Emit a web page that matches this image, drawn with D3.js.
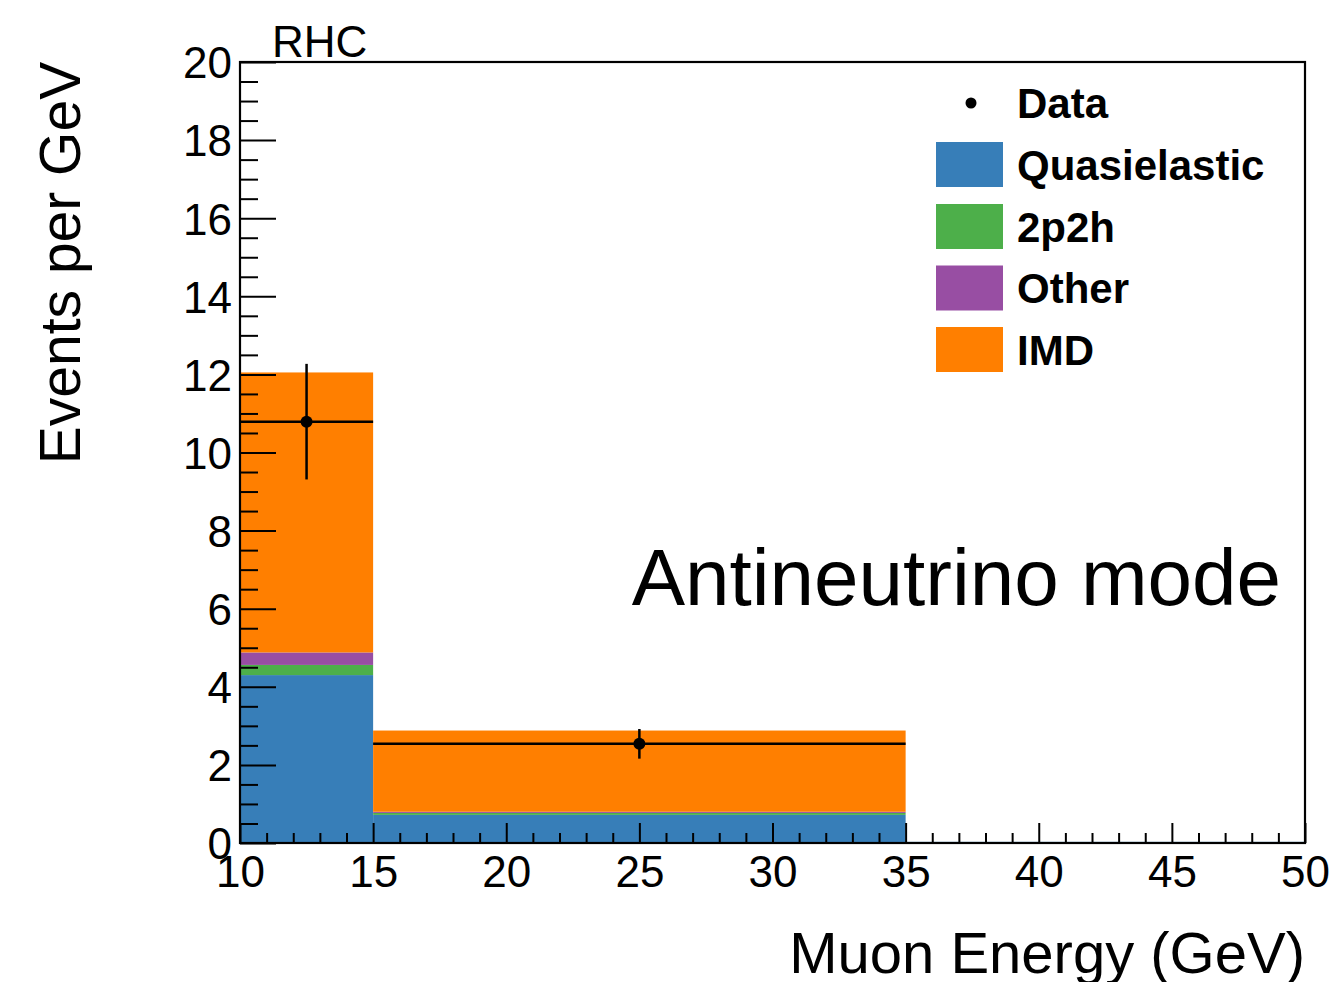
<!DOCTYPE html>
<html>
<head>
<meta charset="utf-8">
<script src="https://cdn.jsdelivr.net/npm/d3@7"></script>
<style>
  html, body { margin: 0; padding: 0; background: #fff; }
  svg { display: block; }
  text { font-family: "Liberation Sans", Arial, Helvetica, sans-serif; fill: #000; }
</style>
</head>
<body>
<svg id="chart" width="1332" height="982"></svg>
<script>
// ---- Data ----
const binEdges = [10, 15, 35, 50];
const quasielastic = [4.30, 0.72, 0.03];
const twoP2h = [0.26, 0.05, 0];
const other = [0.32, 0.03, 0];
const imd = [7.17, 2.08, 0];

const dataX = [12.5, 25];
const dataXLo = [10, 15];
const dataXHi = [15, 35];
const dataY = [10.79, 2.54];
const dataErr = [1.48, 0.38];

const xTicks = [10, 15, 20, 25, 30, 35, 40, 45, 50];
const yTicks = [0, 2, 4, 6, 8, 10, 12, 14, 16, 18, 20];

const seriesNames = ["Quasielastic", "2p2h", "Other", "IMD"];
const seriesColors = ["#377eb8", "#4daf4a", "#984ea3", "#ff7f00"];
const seriesValues = [quasielastic, twoP2h, other, imd];

// ---- Layout ----
const svg = d3.select("#chart");
const L = 240, R = 1305, T = 62, B = 843;
const x = d3.scaleLinear().domain([10, 50]).range([L, R]);
const y = d3.scaleLinear().domain([0, 20]).range([B, T]);

// ---- Stacked histogram ----
const bins = binEdges.slice(0, -1).map((e, i) => {
  const row = { x0: e, x1: binEdges[i + 1] };
  seriesNames.forEach((n, k) => row[n] = seriesValues[k][i]);
  return row;
});
const stack = d3.stack().keys(seriesNames)(bins);
const gBars = svg.append("g");
stack.forEach((layer, k) => {
  gBars.selectAll(null).data(layer).enter().append("rect")
    .attr("x", d => x(d.data.x0))
    .attr("width", d => x(d.data.x1) - x(d.data.x0))
    .attr("y", d => y(d[1]))
    .attr("height", d => Math.max(0, y(d[0]) - y(d[1])))
    .attr("fill", seriesColors[k]);
});

// ---- Axes (ticks inward) ----
const yMinor = d3.range(0, 20.01, 0.5).filter(v => Math.abs(v % 2) > 1e-6);
const xMinor = d3.range(10, 50.01, 1).filter(v => v % 5 !== 0);

const yAxis = d3.axisLeft(y).tickValues(yTicks).tickSize(-36).tickPadding(8).tickFormat(d3.format("d"));
const gy = svg.append("g").attr("transform", `translate(${L},0)`).call(yAxis);
gy.select(".domain").remove();
gy.selectAll(".tick line").attr("stroke", "#000").attr("stroke-width", 2);
gy.selectAll(".tick text").style("font-size", "44px").attr("dy", "0.36em");

const gyMinor = svg.append("g").attr("transform", `translate(${L},0)`)
  .call(d3.axisLeft(y).tickValues(yMinor).tickSize(-18).tickFormat(""));
gyMinor.select(".domain").remove();
gyMinor.selectAll(".tick line").attr("stroke", "#000").attr("stroke-width", 2);

const xAxis = d3.axisBottom(x).tickValues(xTicks).tickSize(-20).tickPadding(12).tickFormat(d3.format("d"));
const gx = svg.append("g").attr("transform", `translate(0,${B})`).call(xAxis);
gx.select(".domain").remove();
gx.selectAll(".tick line").attr("stroke", "#000").attr("stroke-width", 2);
gx.selectAll(".tick text").style("font-size", "44px").attr("dy", "0.72em");

const gxMinor = svg.append("g").attr("transform", `translate(0,${B})`)
  .call(d3.axisBottom(x).tickValues(xMinor).tickSize(-10).tickFormat(""));
gxMinor.select(".domain").remove();
gxMinor.selectAll(".tick line").attr("stroke", "#000").attr("stroke-width", 2);

// Frame
svg.append("rect").attr("x", L).attr("y", T).attr("width", R - L).attr("height", B - T)
  .attr("fill", "none").attr("stroke", "#000").attr("stroke-width", 2.2);

// ---- Data points ----
const gData = svg.append("g");
dataX.forEach((dx, i) => {
  gData.append("line").attr("x1", x(dataXLo[i])).attr("x2", x(dataXHi[i]))
    .attr("y1", y(dataY[i])).attr("y2", y(dataY[i]))
    .attr("stroke", "#000").attr("stroke-width", 2.5);
  gData.append("line").attr("x1", x(dx)).attr("x2", x(dx))
    .attr("y1", y(dataY[i] - dataErr[i])).attr("y2", y(dataY[i] + dataErr[i]))
    .attr("stroke", "#000").attr("stroke-width", 2.5);
  gData.append("circle").attr("cx", x(dx)).attr("cy", y(dataY[i])).attr("r", 6).attr("fill", "#000");
});

// ---- Labels ----
svg.append("text").attr("x", 272).attr("y", 57).style("font-size", "44px").text("RHC");

svg.append("text")
  .attr("transform", `translate(80,263) rotate(-90)`)
  .attr("text-anchor", "middle").style("font-size", "57px")
  .text("Events per GeV");

svg.append("text").attr("x", 1305).attr("y", 973).attr("text-anchor", "end")
  .style("font-size", "58px").text("Muon Energy (GeV)");

svg.append("text").attr("x", 1281).attr("y", 605).attr("text-anchor", "end")
  .style("font-size", "80px").text("Antineutrino mode");

// ---- Legend ----
const lg = svg.append("g");
const legX = 936, boxW = 67, boxH = 45, textX = 1017;
const rowY = [103, 164.5, 226.5, 288, 349.5];
lg.append("circle").attr("cx", 971).attr("cy", rowY[0]).attr("r", 5.5).attr("fill", "#000");
lg.append("text").attr("x", textX).attr("y", rowY[0]).attr("dy", "0.36em")
  .style("font-size", "42px").style("font-weight", "bold").text("Data");
seriesNames.forEach((n, k) => {
  lg.append("rect").attr("x", legX).attr("y", rowY[k + 1] - boxH / 2)
    .attr("width", boxW).attr("height", boxH).attr("fill", seriesColors[k]);
  lg.append("text").attr("x", textX).attr("y", rowY[k + 1]).attr("dy", "0.36em")
    .style("font-size", "42px").style("font-weight", "bold").text(n);
});
</script>
</body>
</html>
